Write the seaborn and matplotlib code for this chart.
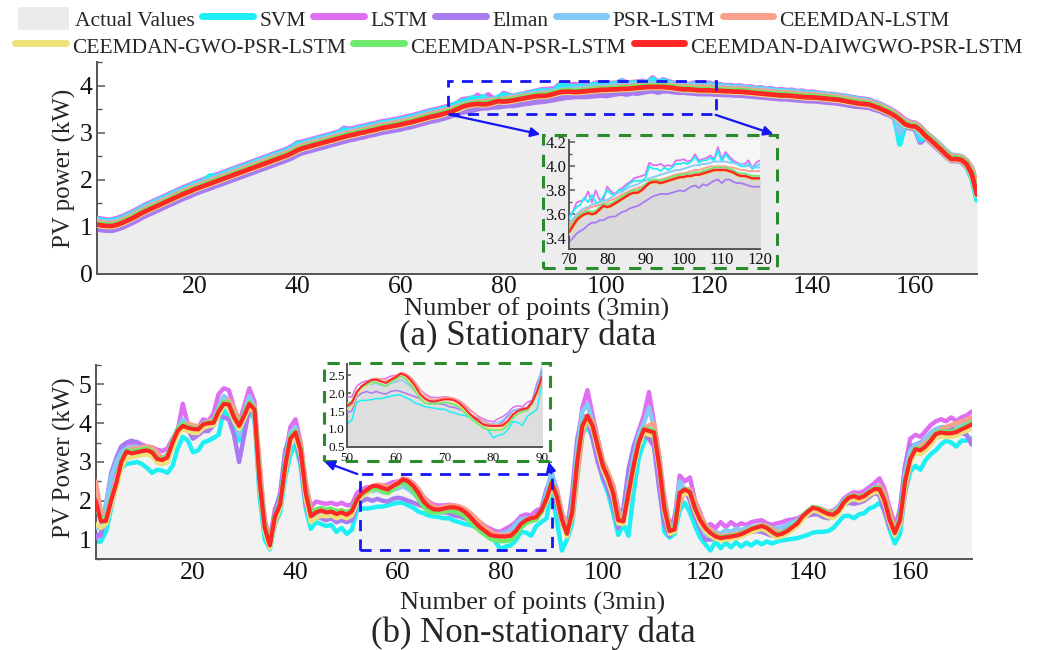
import numpy as np
import pandas as pd
import matplotlib
matplotlib.use("Agg")
import matplotlib.pyplot as plt
import seaborn as sns
from matplotlib.patches import Rectangle, Patch, FancyArrowPatch
from matplotlib.lines import Line2D
from matplotlib.ticker import MultipleLocator, FormatStrFormatter

sns.set_style("ticks")
plt.rcParams["font.family"] = ["Liberation Serif", "DejaVu Serif"]

points = list(range(1, 173))

model_names = ["SVM", "LSTM", "Elman", "PSR-LSTM", "CEEMDAN-LSTM",
               "CEEMDAN-GWO-PSR-LSTM", "CEEMDAN-PSR-LSTM", "CEEMDAN-DAIWGWO-PSR-LSTM"]

# ---------------- (a) Stationary data ----------------
actual_a = [1.07,1.04,1.03,1.03,1.06,1.10,1.15,1.20,1.26,1.32,
1.37,1.42,1.47,1.52,1.57,1.62,1.67,1.72,1.76,1.81,
1.85,1.89,1.93,1.97,2.01,2.05,2.09,2.13,2.17,2.21,
2.25,2.29,2.33,2.37,2.41,2.45,2.49,2.53,2.58,2.64,
2.68,2.71,2.74,2.77,2.80,2.83,2.86,2.89,2.92,2.95,
2.97,3.00,3.02,3.05,3.07,3.10,3.12,3.14,3.16,3.18,
3.21,3.23,3.26,3.29,3.32,3.35,3.37,3.40,3.43,3.46,
3.51,3.55,3.58,3.61,3.61,3.61,3.62,3.65,3.67,3.67,
3.68,3.70,3.72,3.74,3.76,3.77,3.78,3.79,3.81,3.84,
3.86,3.87,3.88,3.87,3.88,3.89,3.90,3.90,3.91,3.92,
3.92,3.93,3.93,3.94,3.95,3.95,3.96,3.97,3.98,3.98,
3.97,3.96,3.95,3.94,3.93,3.92,3.91,3.91,3.90,3.90,
3.89,3.89,3.89,3.88,3.88,3.87,3.86,3.85,3.84,3.83,
3.82,3.81,3.81,3.80,3.79,3.78,3.77,3.76,3.76,3.75,
3.74,3.73,3.72,3.71,3.70,3.69,3.67,3.65,3.63,3.61,
3.60,3.57,3.53,3.48,3.43,3.37,3.29,3.20,3.16,3.14,
3.06,2.95,2.86,2.76,2.66,2.55,2.46,2.45,2.43,2.35,
2.15,1.72]

svm_a = [1.16,1.13,1.12,1.13,1.15,1.19,1.25,1.29,1.35,1.42,
1.46,1.52,1.56,1.62,1.66,1.72,1.76,1.82,1.85,1.91,
1.94,1.99,2.08,2.06,2.10,2.15,2.18,2.23,2.26,2.31,
2.34,2.39,2.42,2.47,2.50,2.55,2.58,2.63,2.68,2.76,
2.77,2.81,2.83,2.87,2.89,2.93,2.95,2.99,3.06,3.04,
3.06,3.10,3.11,3.15,3.16,3.20,3.21,3.24,3.25,3.28,
3.30,3.33,3.35,3.39,3.41,3.45,3.46,3.50,3.52,3.56,
3.62,3.66,3.68,3.74,3.70,3.76,3.70,3.70,3.75,3.80,
3.77,3.76,3.80,3.80,3.83,3.86,3.88,3.88,3.88,3.90,
4.00,3.98,3.98,3.96,3.99,3.97,3.99,4.02,4.02,4.03,
4.02,4.04,4.08,4.03,4.05,4.05,4.07,4.05,4.13,4.04,
4.10,4.06,4.03,4.02,4.00,4.00,4.02,3.98,4.00,4.02,
3.99,4.00,3.97,3.98,3.96,3.97,3.94,3.95,3.92,3.93,
3.90,3.91,3.88,3.89,3.87,3.88,3.85,3.86,3.83,3.84,
3.82,3.82,3.79,3.80,3.77,3.77,3.74,3.73,3.70,3.69,
3.67,3.63,3.59,3.54,3.48,3.40,2.76,3.22,3.18,3.16,
2.85,2.96,2.88,2.79,2.68,2.58,2.48,2.48,2.45,2.30,
2.05,1.57]

lstm_a = [1.18,1.16,1.14,1.15,1.18,1.22,1.27,1.32,1.38,1.44,
1.49,1.54,1.59,1.64,1.69,1.74,1.79,1.84,1.88,1.93,
1.97,2.01,2.06,2.09,2.13,2.17,2.21,2.25,2.29,2.33,
2.37,2.41,2.45,2.49,2.53,2.57,2.61,2.65,2.71,2.78,
2.80,2.83,2.86,2.89,2.92,2.95,2.98,3.01,3.09,3.07,
3.09,3.12,3.14,3.17,3.19,3.22,3.24,3.26,3.28,3.30,
3.33,3.35,3.38,3.41,3.44,3.47,3.49,3.52,3.55,3.58,
3.62,3.70,3.71,3.72,3.79,3.70,3.80,3.72,3.72,3.83,
3.79,3.77,3.80,3.82,3.85,3.87,3.90,3.91,3.92,3.93,
4.03,4.01,4.01,4.02,4.00,4.01,4.00,4.05,4.05,4.06,
4.04,4.05,4.10,4.05,4.06,4.07,4.09,4.06,4.16,4.06,
4.12,4.08,4.05,4.03,4.02,4.02,4.05,3.98,4.03,4.05,
4.01,4.02,3.99,4.00,3.98,3.99,3.96,3.97,3.94,3.95,
3.92,3.93,3.90,3.91,3.89,3.90,3.87,3.88,3.85,3.86,
3.84,3.83,3.81,3.81,3.79,3.78,3.76,3.74,3.72,3.71,
3.69,3.65,3.61,3.56,3.50,3.44,3.36,3.27,3.22,3.20,
3.12,3.00,2.91,2.81,2.71,2.60,2.51,2.50,2.48,2.38,
2.18,1.75]

elman_a = [0.96,0.94,0.93,0.93,0.96,1.00,1.05,1.10,1.16,1.22,
1.27,1.32,1.37,1.42,1.47,1.52,1.57,1.62,1.66,1.71,
1.75,1.79,1.83,1.87,1.91,1.95,1.99,2.03,2.07,2.11,
2.15,2.19,2.23,2.27,2.31,2.35,2.39,2.43,2.48,2.54,
2.58,2.61,2.64,2.67,2.70,2.73,2.76,2.79,2.82,2.85,
2.87,2.90,2.92,2.95,2.97,3.00,3.02,3.04,3.06,3.08,
3.11,3.13,3.16,3.19,3.22,3.25,3.27,3.30,3.33,3.37,
3.40,3.44,3.46,3.48,3.51,3.53,3.53,3.55,3.55,3.57,
3.58,3.58,3.60,3.62,3.63,3.65,3.66,3.67,3.69,3.71,
3.73,3.75,3.76,3.77,3.77,3.77,3.78,3.79,3.80,3.79,
3.81,3.83,3.84,3.82,3.85,3.84,3.86,3.88,3.89,3.86,
3.89,3.89,3.87,3.86,3.86,3.85,3.84,3.83,3.83,3.83,
3.82,3.82,3.81,3.81,3.80,3.80,3.79,3.78,3.77,3.76,
3.75,3.74,3.73,3.72,3.72,3.71,3.70,3.69,3.68,3.68,
3.67,3.66,3.65,3.64,3.63,3.61,3.59,3.57,3.56,3.55,
3.54,3.50,3.47,3.42,3.38,3.32,2.85,3.14,3.10,3.09,
2.80,2.90,2.80,2.70,2.60,2.50,2.41,2.41,2.39,2.28,
2.05,1.62]

psr_lstm_a = [1.13,1.11,1.10,1.10,1.13,1.17,1.22,1.27,1.33,1.39,
1.44,1.49,1.54,1.59,1.64,1.69,1.74,1.79,1.83,1.88,
1.92,1.96,2.00,2.04,2.08,2.12,2.16,2.20,2.24,2.28,
2.32,2.36,2.40,2.44,2.48,2.52,2.56,2.60,2.65,2.71,
2.75,2.78,2.81,2.84,2.87,2.90,2.93,2.96,2.99,3.02,
3.04,3.07,3.09,3.12,3.14,3.17,3.19,3.21,3.23,3.25,
3.28,3.30,3.33,3.36,3.39,3.42,3.44,3.47,3.50,3.53,
3.56,3.60,3.63,3.65,3.66,3.68,3.69,3.70,3.71,3.72,
3.74,3.76,3.78,3.79,3.81,3.83,3.84,3.85,3.87,3.88,
3.90,3.91,3.92,3.93,3.94,3.95,3.96,3.97,3.97,3.98,
3.99,4.00,4.01,4.01,4.02,4.02,4.03,4.04,4.04,4.04,
4.04,4.03,4.03,4.02,4.02,4.01,4.00,4.00,3.99,3.99,
3.98,3.97,3.97,3.96,3.96,3.95,3.94,3.93,3.92,3.91,
3.90,3.89,3.88,3.87,3.87,3.86,3.85,3.84,3.83,3.82,
3.82,3.81,3.80,3.79,3.78,3.76,3.74,3.72,3.70,3.68,
3.66,3.62,3.58,3.54,3.48,3.42,3.00,3.25,3.20,3.19,
2.95,2.99,2.91,2.82,2.72,2.61,2.52,2.51,2.49,2.40,
2.25,1.85]

ceemdan_lstm_a = [1.10,1.08,1.07,1.07,1.10,1.14,1.19,1.24,1.30,1.36,
1.41,1.46,1.51,1.56,1.61,1.66,1.71,1.76,1.80,1.85,
1.89,1.93,1.97,2.01,2.05,2.09,2.13,2.17,2.21,2.25,
2.29,2.33,2.37,2.41,2.45,2.49,2.53,2.57,2.62,2.68,
2.72,2.75,2.78,2.81,2.84,2.87,2.90,2.93,2.96,2.99,
3.01,3.04,3.06,3.09,3.11,3.14,3.16,3.18,3.20,3.22,
3.25,3.27,3.30,3.33,3.36,3.39,3.41,3.44,3.47,3.50,
3.54,3.58,3.61,3.63,3.65,3.66,3.67,3.68,3.69,3.70,
3.72,3.73,3.75,3.77,3.78,3.80,3.81,3.82,3.83,3.85,
3.86,3.87,3.88,3.89,3.90,3.91,3.92,3.93,3.94,3.94,
3.95,3.96,3.97,3.97,3.98,3.99,4.00,4.00,4.00,4.00,
4.00,3.99,3.99,3.98,3.97,3.97,3.96,3.96,3.96,3.96,
3.94,3.94,3.93,3.93,3.92,3.92,3.91,3.90,3.89,3.88,
3.87,3.86,3.85,3.84,3.84,3.83,3.82,3.81,3.80,3.80,
3.79,3.78,3.77,3.76,3.75,3.73,3.71,3.69,3.67,3.66,
3.65,3.61,3.57,3.52,3.47,3.41,3.33,3.23,3.19,3.18,
3.10,2.98,2.89,2.79,2.69,2.58,2.49,2.49,2.47,2.40,
2.22,1.85]

gwo_a = [1.04,1.02,1.01,1.01,1.04,1.08,1.13,1.18,1.24,1.30,
1.35,1.40,1.45,1.50,1.55,1.60,1.65,1.70,1.74,1.79,
1.83,1.87,1.91,1.95,1.99,2.03,2.07,2.11,2.15,2.19,
2.23,2.27,2.31,2.35,2.39,2.43,2.47,2.51,2.56,2.62,
2.66,2.69,2.72,2.75,2.78,2.81,2.84,2.87,2.90,2.93,
2.95,2.98,3.00,3.03,3.05,3.08,3.10,3.12,3.14,3.16,
3.19,3.21,3.24,3.27,3.30,3.33,3.35,3.38,3.41,3.43,
3.48,3.53,3.57,3.59,3.60,3.59,3.60,3.63,3.66,3.65,
3.66,3.68,3.70,3.72,3.74,3.76,3.77,3.77,3.79,3.82,
3.85,3.86,3.86,3.85,3.86,3.87,3.88,3.89,3.90,3.90,
3.91,3.91,3.92,3.92,3.93,3.94,3.95,3.96,3.96,3.96,
3.96,3.95,3.94,3.92,3.91,3.91,3.90,3.89,3.89,3.89,
3.88,3.88,3.87,3.87,3.86,3.86,3.85,3.84,3.83,3.82,
3.81,3.80,3.79,3.78,3.78,3.77,3.76,3.75,3.74,3.74,
3.73,3.72,3.71,3.70,3.69,3.67,3.65,3.63,3.61,3.60,
3.59,3.55,3.51,3.46,3.41,3.35,3.27,3.17,3.13,3.12,
3.04,2.92,2.83,2.73,2.63,2.52,2.43,2.43,2.41,2.32,
2.11,1.67]

psr_a = [1.07,1.05,1.04,1.04,1.07,1.11,1.16,1.21,1.27,1.33,
1.38,1.43,1.48,1.53,1.58,1.63,1.68,1.73,1.77,1.82,
1.86,1.90,1.94,1.98,2.02,2.06,2.10,2.14,2.18,2.22,
2.26,2.30,2.34,2.38,2.42,2.46,2.50,2.54,2.59,2.65,
2.69,2.72,2.75,2.78,2.81,2.84,2.87,2.90,2.93,2.96,
2.98,3.01,3.03,3.06,3.08,3.11,3.13,3.15,3.17,3.19,
3.22,3.24,3.27,3.30,3.33,3.36,3.38,3.41,3.44,3.47,
3.52,3.57,3.60,3.62,3.63,3.62,3.63,3.66,3.69,3.68,
3.69,3.71,3.73,3.75,3.77,3.79,3.80,3.80,3.82,3.85,
3.88,3.89,3.89,3.88,3.89,3.90,3.91,3.92,3.93,3.93,
3.94,3.94,3.95,3.95,3.96,3.97,3.98,3.99,3.99,3.99,
3.99,3.98,3.97,3.95,3.94,3.94,3.93,3.92,3.92,3.92,
3.91,3.91,3.90,3.90,3.89,3.89,3.88,3.87,3.86,3.85,
3.84,3.83,3.82,3.81,3.81,3.80,3.79,3.78,3.77,3.77,
3.76,3.75,3.74,3.73,3.72,3.70,3.68,3.66,3.64,3.63,
3.62,3.58,3.54,3.49,3.44,3.38,3.30,3.20,3.16,3.15,
3.07,2.95,2.86,2.76,2.66,2.55,2.46,2.46,2.44,2.35,
2.14,1.70]

daiwgwo_a = [1.05,1.03,1.02,1.02,1.05,1.09,1.14,1.19,1.25,1.31,
1.36,1.41,1.46,1.51,1.56,1.61,1.66,1.71,1.75,1.80,
1.84,1.88,1.92,1.96,2.00,2.04,2.08,2.12,2.16,2.20,
2.24,2.28,2.32,2.36,2.40,2.44,2.48,2.52,2.57,2.63,
2.67,2.70,2.73,2.76,2.79,2.82,2.85,2.88,2.91,2.94,
2.96,2.99,3.01,3.04,3.06,3.09,3.11,3.13,3.15,3.17,
3.20,3.22,3.25,3.28,3.31,3.34,3.36,3.39,3.42,3.45,
3.50,3.55,3.58,3.60,3.61,3.60,3.61,3.64,3.67,3.66,
3.67,3.69,3.71,3.73,3.75,3.77,3.78,3.78,3.80,3.83,
3.86,3.87,3.87,3.86,3.87,3.88,3.89,3.90,3.91,3.91,
3.92,3.92,3.93,3.93,3.94,3.95,3.96,3.97,3.97,3.97,
3.97,3.96,3.95,3.93,3.92,3.92,3.91,3.90,3.90,3.90,
3.89,3.89,3.88,3.88,3.87,3.87,3.86,3.85,3.84,3.83,
3.82,3.81,3.80,3.79,3.79,3.78,3.77,3.76,3.75,3.75,
3.74,3.73,3.72,3.71,3.70,3.68,3.66,3.64,3.62,3.61,
3.60,3.56,3.52,3.47,3.42,3.36,3.28,3.18,3.14,3.13,
3.05,2.93,2.84,2.74,2.64,2.53,2.44,2.44,2.42,2.33,
2.12,1.68]

# ---------------- (b) Non-stationary data ----------------
actual_b = [2.45,1.60,1.40,1.95,2.50,3.05,3.30,3.30,3.35,3.30,
3.35,3.30,3.05,3.10,3.15,3.60,3.85,4.05,3.90,3.80,
3.90,4.00,4.05,4.10,4.45,4.60,4.50,4.10,3.80,4.30,
4.55,4.30,2.40,1.20,0.80,1.55,1.95,3.00,3.70,3.85,
3.20,2.10,1.55,1.75,1.80,1.70,1.75,1.70,1.75,1.65,
1.75,2.10,2.25,2.30,2.35,2.40,2.30,2.30,2.40,2.50,
2.55,2.45,2.35,2.15,1.95,1.85,1.80,1.80,1.85,1.85,
1.80,1.75,1.70,1.60,1.45,1.30,1.20,1.15,1.10,1.05,
1.05,1.10,1.25,1.45,1.55,1.60,1.65,1.90,2.40,2.70,
2.00,1.40,1.10,1.80,3.20,4.10,4.30,3.90,3.30,2.80,
2.50,2.10,1.40,1.50,2.40,3.10,3.60,3.95,3.90,3.80,
2.80,1.60,1.20,1.30,2.35,2.35,2.20,1.75,1.45,1.25,
1.15,1.10,1.05,1.10,1.05,1.15,1.10,1.20,1.25,1.30,
1.35,1.30,1.20,1.15,1.20,1.25,1.35,1.45,1.65,1.75,
1.85,1.80,1.75,1.70,1.70,1.80,2.00,2.10,2.15,2.10,
2.15,2.25,2.35,2.35,2.00,1.45,1.15,1.55,2.70,3.20,
3.40,3.35,3.50,3.65,3.80,3.85,3.80,3.85,3.90,3.95,
4.00,4.20]

svm_b = [0.95,0.95,1.20,1.80,2.40,2.85,2.95,2.97,3.00,2.95,
2.85,2.72,2.80,2.78,2.72,2.90,3.35,3.65,3.55,3.25,
3.30,3.50,3.55,3.62,3.70,4.35,4.15,4.00,3.55,4.00,
4.30,4.10,2.10,1.00,0.75,1.40,1.70,2.60,3.20,3.45,
2.90,1.80,1.28,1.45,1.40,1.35,1.38,1.20,1.30,1.15,
1.25,1.75,1.80,1.80,1.82,1.85,1.85,1.88,1.92,1.95,
1.95,1.88,1.82,1.72,1.68,1.62,1.60,1.58,1.55,1.55,
1.48,1.45,1.40,1.38,1.33,1.28,1.20,1.12,0.95,0.75,
0.82,0.85,0.98,1.20,1.18,1.10,1.35,1.45,1.55,2.30,
1.50,0.72,1.00,1.40,2.60,3.70,3.95,3.60,3.10,2.55,
2.20,1.70,1.12,1.40,1.10,2.20,3.10,3.50,3.75,3.40,
2.50,1.20,1.05,1.15,1.75,1.95,1.70,1.35,1.05,0.88,
0.72,0.95,0.78,0.92,0.80,0.93,0.82,0.92,0.85,0.95,
0.88,0.95,0.90,0.95,0.98,1.00,1.02,1.04,1.08,1.12,
1.18,1.20,1.20,1.22,1.30,1.45,1.60,1.62,1.55,1.65,
1.68,1.80,1.85,1.95,1.75,1.25,0.90,1.15,2.20,2.75,
2.90,2.80,3.05,3.20,3.30,3.45,3.55,3.50,3.40,3.55,
3.55,3.62]

lstm_b = [1.05,1.10,1.70,2.50,2.95,3.30,3.48,3.48,3.52,3.45,
3.40,3.38,3.32,3.28,3.35,3.60,3.80,4.50,3.95,3.70,
3.90,4.10,4.05,4.25,4.75,4.90,4.85,4.40,4.00,4.45,
4.90,4.55,2.70,1.50,1.00,1.80,2.10,3.10,3.90,4.10,
3.50,2.40,1.85,1.98,1.95,1.92,1.95,1.90,1.95,1.88,
1.90,2.20,2.30,2.35,2.35,2.40,2.38,2.42,2.48,2.50,
2.55,2.52,2.45,2.30,2.10,1.98,1.90,1.88,1.88,1.90,
1.88,1.85,1.78,1.68,1.55,1.45,1.35,1.28,1.22,1.20,
1.28,1.35,1.45,1.60,1.65,1.62,1.75,1.80,2.10,2.70,
2.30,1.70,1.35,2.00,3.40,4.40,4.85,4.20,3.60,3.00,
2.70,2.40,1.80,1.60,2.50,3.20,3.80,4.20,4.80,4.00,
3.10,1.90,1.40,1.50,2.65,2.50,2.60,2.00,1.70,1.30,
1.40,1.30,1.45,1.32,1.45,1.35,1.42,1.38,1.45,1.48,
1.50,1.42,1.38,1.42,1.45,1.50,1.52,1.55,1.62,1.70,
1.78,1.75,1.70,1.72,1.75,1.85,2.05,2.15,2.22,2.20,
2.25,2.35,2.45,2.58,2.30,1.80,1.40,1.70,2.90,3.60,
3.70,3.65,3.80,3.95,4.05,4.10,4.05,4.15,4.05,4.15,
4.20,4.30]

elman_b = [1.10,1.15,1.90,2.70,3.10,3.40,3.50,3.55,3.50,3.40,
3.35,3.20,3.00,2.95,3.00,3.45,3.85,4.00,3.85,3.60,
3.70,3.80,3.80,3.95,4.20,4.15,4.10,3.70,3.00,3.70,
4.40,4.25,2.40,1.40,0.90,1.70,2.20,3.30,3.70,3.65,
3.00,1.90,1.50,1.60,1.55,1.50,1.55,1.45,1.50,1.45,
1.50,1.90,2.00,2.05,2.00,2.05,2.00,1.98,2.05,2.08,
2.05,2.00,1.95,1.90,1.85,1.80,1.75,1.72,1.70,1.68,
1.62,1.60,1.55,1.50,1.42,1.35,1.28,1.22,1.15,1.10,
1.12,1.20,1.35,1.50,1.55,1.58,1.60,1.80,2.30,2.60,
1.90,1.40,1.20,2.20,3.60,4.20,4.10,3.60,3.00,2.60,
2.30,1.90,1.30,1.80,2.80,3.40,3.80,3.70,3.60,3.40,
2.30,1.40,1.10,1.60,2.30,2.30,2.00,1.60,1.30,1.00,
1.00,1.05,1.08,1.10,1.12,1.12,1.15,1.17,1.20,1.22,
1.20,1.15,1.10,1.12,1.20,1.28,1.38,1.50,1.58,1.62,
1.65,1.65,1.58,1.55,1.60,1.75,1.90,1.95,1.92,1.95,
2.00,2.10,2.20,2.15,1.70,1.30,1.20,1.80,2.90,3.40,
3.45,3.50,3.60,3.75,3.85,3.85,3.80,3.90,3.80,3.75,
3.70,3.45]

psr_lstm_b = [1.30,1.30,1.90,2.60,3.00,3.25,3.35,3.38,3.40,3.35,
3.35,3.30,3.15,3.10,3.20,3.55,3.85,4.10,3.95,3.80,
3.85,4.00,4.05,4.10,4.40,4.70,4.60,4.20,3.70,4.30,
4.70,4.40,2.50,1.25,0.85,1.60,2.00,3.00,3.75,3.90,
3.30,2.10,1.55,1.70,1.70,1.65,1.68,1.60,1.65,1.60,
1.65,2.00,2.15,2.25,2.25,2.28,2.22,2.20,2.28,2.32,
2.38,2.30,2.20,2.05,1.90,1.80,1.75,1.72,1.72,1.75,
1.72,1.68,1.62,1.52,1.40,1.30,1.22,1.15,1.12,1.15,
1.18,1.25,1.40,1.52,1.55,1.50,1.60,1.70,2.20,2.75,
2.20,1.40,1.10,1.90,3.30,4.30,4.50,4.00,3.30,2.80,
2.50,2.10,1.40,1.55,2.40,3.10,3.70,4.00,4.40,3.90,
2.90,1.70,1.20,1.40,2.50,2.30,2.30,1.80,1.40,1.15,
1.10,1.20,1.15,1.25,1.20,1.28,1.25,1.30,1.32,1.35,
1.38,1.35,1.30,1.30,1.32,1.38,1.45,1.50,1.62,1.70,
1.78,1.75,1.72,1.72,1.72,1.82,2.00,2.10,2.12,2.10,
2.15,2.25,2.35,2.40,2.10,1.55,1.25,1.60,2.70,3.30,
3.45,3.45,3.60,3.75,3.85,3.90,3.90,3.95,3.95,4.00,
4.05,4.10]

ceemdan_lstm_b = [2.50,1.75,1.45,1.85,2.35,2.90,3.25,3.35,3.35,3.38,
3.40,3.38,3.25,3.10,3.15,3.45,3.80,3.95,4.00,3.95,
3.92,3.98,4.05,4.08,4.25,4.50,4.60,4.40,4.05,4.15,
4.45,4.45,3.00,1.50,0.95,1.40,1.90,2.70,3.50,3.80,
3.50,2.50,1.80,1.72,1.80,1.78,1.75,1.75,1.72,1.72,
1.75,1.95,2.20,2.30,2.38,2.42,2.40,2.35,2.40,2.48,
2.58,2.55,2.45,2.30,2.10,1.95,1.85,1.82,1.85,1.88,
1.88,1.85,1.80,1.70,1.58,1.45,1.32,1.22,1.15,1.12,
1.12,1.15,1.22,1.38,1.50,1.56,1.60,1.70,1.95,2.35,
2.30,1.70,1.30,1.50,2.60,3.70,4.20,4.05,3.60,3.05,
2.75,2.40,1.75,1.55,2.00,2.80,3.45,3.85,3.95,4.00,
3.20,2.10,1.40,1.25,1.90,2.30,2.30,2.00,1.65,1.40,
1.25,1.15,1.10,1.10,1.12,1.15,1.18,1.22,1.28,1.33,
1.38,1.35,1.28,1.20,1.18,1.22,1.32,1.42,1.55,1.70,
1.80,1.82,1.78,1.72,1.70,1.75,1.92,2.08,2.15,2.12,
2.15,2.22,2.30,2.38,2.20,1.70,1.30,1.35,2.20,3.00,
3.30,3.40,3.50,3.60,3.75,3.85,3.90,3.95,4.00,4.05,
4.10,4.15]

gwo_b = [1.40,1.30,1.40,1.90,2.30,2.85,3.10,3.12,3.15,3.18,
3.20,3.15,2.98,2.95,3.00,3.35,3.70,3.85,3.80,3.75,
3.75,3.88,3.92,3.95,4.20,4.45,4.40,4.05,3.85,4.10,
4.45,4.25,2.40,1.20,0.78,1.50,1.80,2.80,3.50,3.65,
3.20,2.05,1.45,1.55,1.62,1.60,1.62,1.55,1.60,1.55,
1.62,1.95,2.12,2.20,2.30,2.30,2.25,2.20,2.30,2.38,
2.48,2.42,2.30,2.12,1.90,1.78,1.70,1.70,1.72,1.75,
1.75,1.72,1.65,1.52,1.38,1.25,1.15,1.05,1.02,1.00,
1.00,1.02,1.15,1.32,1.42,1.48,1.50,1.68,1.98,2.38,
2.05,1.45,1.08,1.62,2.90,3.85,4.10,3.85,3.30,2.80,
2.50,2.10,1.42,1.40,2.10,2.80,3.40,3.75,3.70,3.68,
2.80,1.72,1.15,1.20,2.10,2.20,2.15,1.72,1.42,1.22,
1.10,1.02,0.98,1.00,1.02,1.04,1.08,1.14,1.20,1.24,
1.28,1.22,1.12,1.05,1.08,1.15,1.25,1.35,1.52,1.65,
1.75,1.72,1.65,1.58,1.56,1.66,1.88,2.00,2.05,2.00,
2.05,2.15,2.22,2.22,1.92,1.42,1.10,1.42,2.40,2.98,
3.22,3.20,3.30,3.45,3.62,3.66,3.64,3.65,3.68,3.75,
3.80,3.88]

psr_b = [1.90,1.50,1.55,2.05,2.50,3.05,3.30,3.28,3.30,3.32,
3.35,3.28,3.10,3.08,3.15,3.55,3.85,3.98,3.90,3.88,
3.86,3.98,4.02,4.05,4.35,4.55,4.52,4.18,3.95,4.25,
4.55,4.38,2.55,1.32,0.88,1.62,1.95,2.95,3.65,3.80,
3.35,2.25,1.65,1.78,1.82,1.78,1.80,1.72,1.76,1.70,
1.78,2.05,2.18,2.25,2.32,2.30,2.25,2.20,2.30,2.40,
2.48,2.40,2.25,2.05,1.85,1.72,1.70,1.70,1.72,1.74,
1.72,1.68,1.60,1.48,1.35,1.22,1.12,1.02,0.98,0.96,
0.96,0.98,1.10,1.30,1.42,1.48,1.52,1.72,2.05,2.48,
2.15,1.55,1.18,1.72,3.02,3.95,4.20,3.95,3.42,2.92,
2.62,2.22,1.52,1.50,2.22,2.92,3.52,3.86,3.85,3.80,
2.95,1.85,1.25,1.30,2.22,2.30,2.24,1.82,1.52,1.32,
1.18,1.10,1.06,1.08,1.10,1.12,1.16,1.22,1.28,1.32,
1.36,1.32,1.22,1.14,1.17,1.24,1.34,1.44,1.62,1.74,
1.84,1.82,1.75,1.68,1.66,1.76,1.97,2.10,2.14,2.09,
2.14,2.24,2.32,2.33,2.03,1.53,1.20,1.53,2.55,3.10,
3.36,3.33,3.42,3.58,3.75,3.80,3.78,3.78,3.82,3.88,
3.95,4.02]

daiwgwo_b = [2.00,1.47,1.48,2.00,2.45,3.00,3.27,3.22,3.25,3.28,
3.30,3.25,3.08,3.05,3.12,3.50,3.80,3.93,3.88,3.85,
3.84,3.97,4.00,4.01,4.30,4.50,4.48,4.15,3.93,4.20,
4.50,4.35,2.50,1.30,0.85,1.60,1.90,2.90,3.60,3.76,
3.30,2.20,1.60,1.70,1.75,1.70,1.72,1.66,1.70,1.64,
1.73,2.03,2.20,2.29,2.38,2.38,2.33,2.29,2.38,2.45,
2.55,2.50,2.38,2.20,1.98,1.85,1.78,1.77,1.80,1.83,
1.83,1.80,1.72,1.60,1.45,1.32,1.22,1.12,1.09,1.08,
1.08,1.10,1.22,1.40,1.50,1.55,1.58,1.75,2.05,2.46,
2.12,1.52,1.15,1.70,3.00,3.93,4.19,3.93,3.40,2.90,
2.60,2.20,1.50,1.47,2.20,2.90,3.50,3.84,3.80,3.76,
2.90,1.80,1.22,1.26,2.20,2.29,2.22,1.80,1.50,1.30,
1.17,1.08,1.04,1.06,1.08,1.10,1.14,1.20,1.27,1.31,
1.35,1.30,1.20,1.12,1.15,1.22,1.32,1.42,1.60,1.72,
1.82,1.79,1.72,1.66,1.64,1.74,1.95,2.08,2.12,2.07,
2.12,2.22,2.30,2.30,2.00,1.50,1.17,1.50,2.50,3.07,
3.33,3.30,3.40,3.55,3.72,3.76,3.74,3.74,3.77,3.84,
3.90,3.97]

series_a = dict(zip(model_names, [svm_a, lstm_a, elman_a, psr_lstm_a, ceemdan_lstm_a,
                                  gwo_a, psr_a, daiwgwo_a]))
series_b = dict(zip(model_names, [svm_b, lstm_b, elman_b, psr_lstm_b, ceemdan_lstm_b,
                                  gwo_b, psr_b, daiwgwo_b]))
for k, v in list(series_a.items()) + list(series_b.items()) + [("actual_a", actual_a), ("actual_b", actual_b)]:
    if len(v) != len(points):
        raise ValueError(f"{k} has {len(v)} values")

colors = {
    "SVM": "#1DEFF5",
    "LSTM": "#DE6FF2",
    "Elman": "#A97BF0",
    "PSR-LSTM": "#84C9F7",
    "CEEMDAN-LSTM": "#F9A08A",
    "CEEMDAN-GWO-PSR-LSTM": "#EDE27A",
    "CEEMDAN-PSR-LSTM": "#6BEA6B",
    "CEEMDAN-DAIWGWO-PSR-LSTM": "#FF2626",
}
fill_main = "#EDEDED"

df_a = pd.DataFrame({"x": points, "Actual": actual_a, **series_a})
df_b = pd.DataFrame({"x": points, "Actual": actual_b, **series_b})

order_a = ["Elman", "LSTM", "SVM", "PSR-LSTM", "CEEMDAN-LSTM",
           "CEEMDAN-GWO-PSR-LSTM", "CEEMDAN-PSR-LSTM", "CEEMDAN-DAIWGWO-PSR-LSTM"]
order_b = ["SVM", "LSTM", "Elman", "PSR-LSTM", "CEEMDAN-LSTM",
           "CEEMDAN-GWO-PSR-LSTM", "CEEMDAN-PSR-LSTM", "CEEMDAN-DAIWGWO-PSR-LSTM"]

fig = plt.figure(figsize=(10.4, 6.5), dpi=100)
fig.patch.set_facecolor("white")

def W(px):
    return px / 1040.0

def H(py):
    return 1 - py / 650.0

spine_c = "#555555"

def style_axes(ax, size, major_len=6, minor_len=3.5):
    for s in ["top", "right"]:
        ax.spines[s].set_visible(False)
    for s in ["left", "bottom"]:
        ax.spines[s].set_color(spine_c)
        ax.spines[s].set_linewidth(1.4)
    ax.tick_params(which="both", direction="in", color=spine_c, labelsize=size,
                   labelcolor="#111111", pad=3)
    ax.tick_params(which="major", length=major_len, width=1.1)
    ax.tick_params(which="minor", length=minor_len, width=1.0)
    ax.set_xlabel("")
    ax.set_ylabel("")

def draw(ax, df, order, lw, red_lw, fill_color, base):
    ax.fill_between(df["x"], base, df["Actual"], color=fill_color, lw=0, zorder=1)
    for i, name in enumerate(order):
        w = red_lw if name == "CEEMDAN-DAIWGWO-PSR-LSTM" else lw
        sns.lineplot(data=df, x="x", y=name, ax=ax, color=colors[name], lw=w,
                     legend=False, zorder=2 + i, solid_capstyle="round",
                     solid_joinstyle="round")

# ---- panel (a)
axA = fig.add_axes([W(97), H(274), W(977 - 97), H(62) - H(274)])
draw(axA, df_a, order_a, 4.2, 3.4, fill_main, 0)
axA.set_xlim(1, 172)
axA.set_ylim(0, 4.5)
axA.xaxis.set_major_locator(MultipleLocator(20))
axA.xaxis.set_minor_locator(MultipleLocator(10))
axA.yaxis.set_major_locator(MultipleLocator(1))
axA.yaxis.set_minor_locator(MultipleLocator(0.5))
style_axes(axA, 18.5)
axA.set_xticks([20, 40, 60, 80, 100, 120, 140, 160])
axA.tick_params(axis="x", pad=1.5)
axA.add_patch(Rectangle((69.2, 3.40), 52.0, 0.70, fill=False, ec="#1515F5",
                        ls=(0, (4, 3)), lw=2.0, zorder=30))

# ---- panel (b)
axB = fig.add_axes([W(95.7), H(559), W(971.7 - 95.7), H(365) - H(559)])
draw(axB, df_b, order_b, 3.2, 3.0, "#F2F2F2", 0)
axB.set_xlim(1, 172)
axB.set_ylim(0.5, 5.5)
axB.xaxis.set_major_locator(MultipleLocator(20))
axB.xaxis.set_minor_locator(MultipleLocator(10))
axB.yaxis.set_major_locator(MultipleLocator(1))
axB.yaxis.set_minor_locator(MultipleLocator(0.5))
style_axes(axB, 18.5)
axB.set_xticks([20, 40, 60, 80, 100, 120, 140, 160])
axB.set_yticks([1, 2, 3, 4, 5])
axB.tick_params(axis="x", pad=2)
axB.add_patch(Rectangle((52.6, 0.72), 37.5, 1.96, fill=False, ec="#1515F5",
                        ls=(0, (4, 3)), lw=2.0, zorder=30))

# ---- inset (a)
insA = fig.add_axes([W(569), H(249), W(760 - 569), H(140) - H(249)], zorder=10)
insA.set_facecolor("#F6F6F6")
draw(insA, df_a, order_a, 1.3, 1.8, "#DADADA", 0)
insA.set_xlim(70, 120)
insA.set_ylim(3.31, 4.22)
insA.set_xticks([70, 80, 90, 100, 110, 120])
insA.xaxis.set_minor_locator(MultipleLocator(5))
insA.set_yticks([3.4, 3.6, 3.8, 4.0, 4.2])
insA.yaxis.set_minor_locator(MultipleLocator(0.1))
insA.yaxis.set_major_formatter(FormatStrFormatter("%.1f"))
style_axes(insA, 12, major_len=4, minor_len=2.5)
insA.tick_params(pad=2)

# ---- inset (b)
insB = fig.add_axes([W(347), H(446.7), W(542 - 347), H(364) - H(446.7)], zorder=10)
insB.set_facecolor("#FAFAFA")
draw(insB, df_b, order_b, 1.1, 1.5, "#DEDEDE", 0)
insB.set_xlim(50, 90)
insB.set_ylim(0.5, 2.82)
insB.set_xticks([50, 60, 70, 80, 90])
insB.xaxis.set_minor_locator(MultipleLocator(5))
insB.set_yticks([0.5, 1.0, 1.5, 2.0, 2.5])
insB.yaxis.set_major_formatter(FormatStrFormatter("%.1f"))
style_axes(insB, 9.5, major_len=3, minor_len=2)
insB.tick_params(axis="y", pad=1.5)
insB.tick_params(axis="x", pad=3.5)

# ---- green dashed frames
green = "#2B8A2B"
fig.add_artist(Rectangle((W(543), H(268)), W(777 - 543), H(135) - H(268),
                         transform=fig.transFigure, fill=False, ec=green,
                         ls=(0, (4, 3)), lw=2.2, zorder=40))
fig.add_artist(Rectangle((W(324), H(461)), W(550 - 324), H(362.7) - H(461),
                         transform=fig.transFigure, fill=False, ec=green,
                         ls=(0, (4, 3)), lw=2.2, zorder=40))

# ---- blue arrows
def arrow(p0, p1):
    a = FancyArrowPatch((W(p0[0]), H(p0[1])), (W(p1[0]), H(p1[1])),
                        transform=fig.transFigure, arrowstyle="-|>",
                        mutation_scale=14, color="#1515F5", lw=1.6, zorder=45)
    fig.add_artist(a)

arrow((447, 114), (543, 135))
arrow((713, 114), (776, 135))
arrow((360, 475), (322, 461))
arrow((552, 476), (548, 459))

# ---- labels and titles
fig.text(W(64), H(168), "PV power (kW)", rotation=90, ha="center", va="center", fontsize=18)
fig.text(W(64), H(458), "PV Power (kW)", rotation=90, ha="center", va="center", fontsize=18)
fig.text(W(537), H(309), "Number of points (3min)", ha="center", va="center", fontsize=19)
fig.text(W(528), H(336), "(a) Stationary data", ha="center", va="center", fontsize=25)
fig.text(W(533), H(603), "Number of points (3min)", ha="center", va="center", fontsize=19)
fig.text(W(533), H(633), "(b) Non-stationary data", ha="center", va="center", fontsize=25)

# ---- legend
handles = [Patch(facecolor="#EBEBEB", edgecolor="none")]
handles += [Line2D([], [], color=colors[n], lw=5, solid_capstyle="round") for n in model_names]
labels = ["Actual Values"] + model_names
common = dict(frameon=False, fontsize=15.5, handlelength=2.35, handletextpad=0.3,
              columnspacing=0.35, borderpad=0, borderaxespad=0, handleheight=1.3)
leg1 = fig.legend(handles[:6], labels[:6], loc="center left",
                  bbox_to_anchor=(W(18), H(19)), ncol=6, **common)
leg2 = fig.legend(handles[6:], labels[6:], loc="center left",
                  bbox_to_anchor=(W(15), H(46)), ncol=3, **common)

fig.savefig("out.png", dpi=100, facecolor="white")
